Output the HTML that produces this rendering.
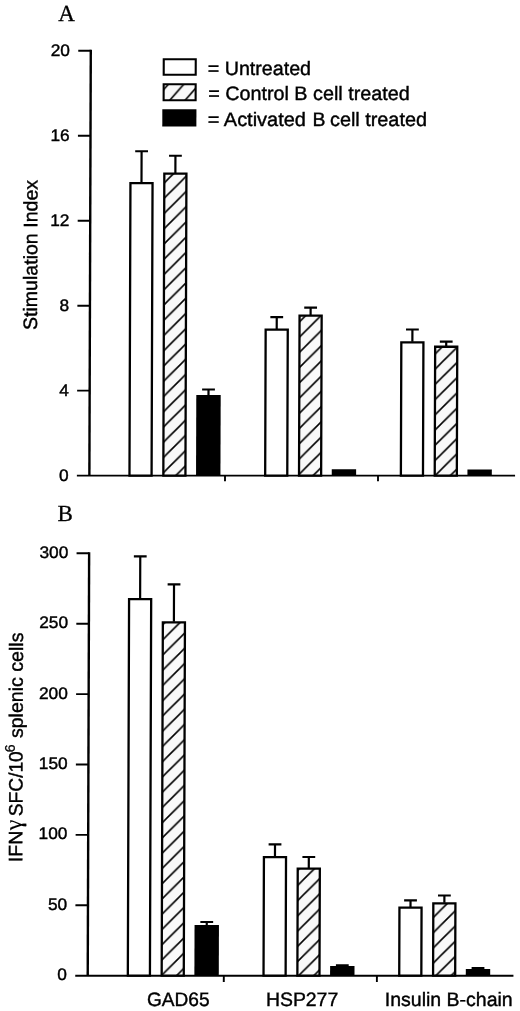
<!DOCTYPE html>
<html lang="en"><head><meta charset="utf-8"><title>Figure</title>
<style>html,body{margin:0;padding:0;background:#fff}svg{display:block}text{font-family:"Liberation Sans",Arial,Helvetica,sans-serif;fill:#000}.serif{font-family:"Liberation Serif","Times New Roman",serif}</style>
</head><body>
<svg width="520" height="1011" viewBox="0 0 520 1011">
<defs>
<pattern id="hA" patternUnits="userSpaceOnUse" width="15.255" height="15.255" patternTransform="translate(0 12.20)"><rect width="15.255" height="15.255" fill="#f9f9f9"/><path d="M-15.255 15.255L15.255 -15.255M0 15.255L15.255 0M0 30.51L30.510 0" stroke="#000" stroke-width="1.6" fill="none"/></pattern>
<pattern id="hB" patternUnits="userSpaceOnUse" width="15.255" height="15.255" patternTransform="translate(0 11.34)"><rect width="15.255" height="15.255" fill="#f9f9f9"/><path d="M-15.255 15.255L15.255 -15.255M0 15.255L15.255 0M0 30.51L30.510 0" stroke="#000" stroke-width="1.6" fill="none"/></pattern>
<pattern id="hl" patternUnits="userSpaceOnUse" width="15.391" height="17.7" patternTransform="translate(0 12.70)"><rect width="15.391" height="17.7" fill="#f9f9f9"/><path d="M-15.391 17.7L15.391 -17.7M0 17.7L15.391 0M0 35.4L30.783 0" stroke="#000" stroke-width="1.6" fill="none"/></pattern>
</defs>
<rect width="520" height="1011" fill="#fff"/>
<g transform="matrix(1 0 -0.0033 1 0 0)">
<text class="serif" x="58.25" y="21" font-size="23" stroke="#000" stroke-width="0.3">A</text>
<path d="M90.95 49.85V475.6" stroke="#000" stroke-width="2.4" fill="none"/>
<path d="M78.45 475.6H516.65" stroke="#000" stroke-width="1.9" fill="none"/>
<path d="M78.4 390.64H90.95" stroke="#000" stroke-width="1.9" fill="none"/>
<path d="M78.4 305.68H90.95" stroke="#000" stroke-width="1.9" fill="none"/>
<path d="M78.4 220.72H90.95" stroke="#000" stroke-width="1.9" fill="none"/>
<path d="M78.4 135.76H90.95" stroke="#000" stroke-width="1.9" fill="none"/>
<path d="M78.4 50.80H90.95" stroke="#000" stroke-width="1.9" fill="none"/>
<text transform="translate(70.15 480.78) scale(1.035 1)" font-size="16.7" text-anchor="end" stroke="#000" stroke-width="0.42">0</text>
<text transform="translate(70.15 395.82) scale(1.035 1)" font-size="16.7" text-anchor="end" stroke="#000" stroke-width="0.42">4</text>
<text transform="translate(70.15 310.86) scale(1.035 1)" font-size="16.7" text-anchor="end" stroke="#000" stroke-width="0.42">8</text>
<text transform="translate(70.15 225.90) scale(1.035 1)" font-size="16.7" text-anchor="end" stroke="#000" stroke-width="0.42">12</text>
<text transform="translate(70.15 140.94) scale(1.035 1)" font-size="16.7" text-anchor="end" stroke="#000" stroke-width="0.42">16</text>
<text transform="translate(70.15 55.98) scale(1.035 1)" font-size="16.7" text-anchor="end" stroke="#000" stroke-width="0.42">20</text>
<path d="M226.58 475.6V481.20000000000005" stroke="#000" stroke-width="1.9" fill="none"/>
<path d="M379.58 475.6V481.20000000000005" stroke="#000" stroke-width="1.9" fill="none"/>
<text transform="translate(38.04 330.1) rotate(-90)" font-size="19.4" textLength="150.2" lengthAdjust="spacingAndGlyphs" stroke="#000" stroke-width="0.4">Stimulation Index</text>
<rect x="163.95" y="59.3" width="32" height="15.4" fill="#fff" stroke="#000" stroke-width="2.1"/>
<rect x="163.95" y="84.3" width="32" height="15.9" fill="url(#hl)" stroke="#000" stroke-width="2.1"/>
<rect x="162.70" y="109.3" width="34.1" height="17.2" fill="#000"/>
<text x="208.03" y="75" font-size="19.4" textLength="103.3" lengthAdjust="spacingAndGlyphs" stroke="#000" stroke-width="0.4">= Untreated</text>
<text x="208.51" y="100.2" font-size="19.4" textLength="201.5" lengthAdjust="spacingAndGlyphs" stroke="#000" stroke-width="0.4">= Control B cell treated</text>
<text x="208.20" y="125.8" font-size="19.4" textLength="98.1" lengthAdjust="spacingAndGlyphs" stroke="#000" stroke-width="0.4">= Activated</text>
<text x="312.85" y="125.8" font-size="19.4" stroke="#000" stroke-width="0.4">B</text>
<text x="330.40" y="125.8" font-size="19.4" textLength="97.0" lengthAdjust="spacingAndGlyphs" stroke="#000" stroke-width="0.4">cell treated</text>
<rect x="131.05" y="183.05" width="22.10" height="292.55" fill="#fff" stroke="#000" stroke-width="2.3"/>
<path d="M142.10 182.40V151.25M135.70 151.25H148.50" stroke="#000" stroke-width="2.2" fill="none"/>
<rect x="164.90" y="173.55" width="22.10" height="302.05" fill="url(#hA)" stroke="#000" stroke-width="2.3"/>
<path d="M175.95 172.90V155.75M169.55 155.75H182.35" stroke="#000" stroke-width="2.2" fill="none"/>
<rect x="197.60" y="395.00" width="24.40" height="80.60" fill="#000"/>
<path d="M209.80 395.50V389.50M203.40 389.50H216.20" stroke="#000" stroke-width="2.2" fill="none"/>
<rect x="266.75" y="329.65" width="22.10" height="145.95" fill="#fff" stroke="#000" stroke-width="2.3"/>
<path d="M277.80 329.00V317.20M271.40 317.20H284.20" stroke="#000" stroke-width="2.2" fill="none"/>
<rect x="300.60" y="315.55" width="22.10" height="160.05" fill="url(#hA)" stroke="#000" stroke-width="2.3"/>
<path d="M311.65 314.90V307.60M305.25 307.60H318.05" stroke="#000" stroke-width="2.2" fill="none"/>
<rect x="333.30" y="469.30" width="24.40" height="6.30" fill="#000"/>
<rect x="402.45" y="342.35" width="22.10" height="133.25" fill="#fff" stroke="#000" stroke-width="2.3"/>
<path d="M413.50 341.70V329.50M407.10 329.50H419.90" stroke="#000" stroke-width="2.2" fill="none"/>
<rect x="436.30" y="346.75" width="22.10" height="128.85" fill="url(#hA)" stroke="#000" stroke-width="2.3"/>
<path d="M447.35 346.10V341.60M440.95 341.60H453.75" stroke="#000" stroke-width="2.2" fill="none"/>
<rect x="469.00" y="469.60" width="24.40" height="6.00" fill="#000"/>
<text class="serif" x="59.20" y="521" font-size="23" stroke="#000" stroke-width="0.3">B</text>
<path d="M90.95 552.35V975.7" stroke="#000" stroke-width="2.4" fill="none"/>
<path d="M78.45 975.7H516.65" stroke="#000" stroke-width="1.9" fill="none"/>
<path d="M78.4 905.30H90.95" stroke="#000" stroke-width="1.9" fill="none"/>
<path d="M78.4 834.90H90.95" stroke="#000" stroke-width="1.9" fill="none"/>
<path d="M78.4 764.50H90.95" stroke="#000" stroke-width="1.9" fill="none"/>
<path d="M78.4 694.10H90.95" stroke="#000" stroke-width="1.9" fill="none"/>
<path d="M78.4 623.70H90.95" stroke="#000" stroke-width="1.9" fill="none"/>
<path d="M78.4 553.30H90.95" stroke="#000" stroke-width="1.9" fill="none"/>
<text transform="translate(70.15 980.18) scale(1.035 1)" font-size="16.7" text-anchor="end" stroke="#000" stroke-width="0.42">0</text>
<text transform="translate(70.15 909.78) scale(1.035 1)" font-size="16.7" text-anchor="end" stroke="#000" stroke-width="0.42">50</text>
<text transform="translate(70.15 839.38) scale(1.035 1)" font-size="16.7" text-anchor="end" stroke="#000" stroke-width="0.42">100</text>
<text transform="translate(70.15 768.98) scale(1.035 1)" font-size="16.7" text-anchor="end" stroke="#000" stroke-width="0.42">150</text>
<text transform="translate(70.15 698.58) scale(1.035 1)" font-size="16.7" text-anchor="end" stroke="#000" stroke-width="0.42">200</text>
<text transform="translate(70.15 628.18) scale(1.035 1)" font-size="16.7" text-anchor="end" stroke="#000" stroke-width="0.42">250</text>
<text transform="translate(70.15 557.78) scale(1.035 1)" font-size="16.7" text-anchor="end" stroke="#000" stroke-width="0.42">300</text>
<path d="M227.03 975.7V981.9000000000001" stroke="#000" stroke-width="1.9" fill="none"/>
<path d="M380.13 975.7V981.9000000000001" stroke="#000" stroke-width="1.9" fill="none"/>
<g transform="translate(25.08 862.1) rotate(-90)" font-size="19.4" stroke="#000" stroke-width="0.4"><text x="0" y="0" textLength="31.4" lengthAdjust="spacingAndGlyphs">IFN</text><text class="serif" x="31.9" y="-1.0" font-size="24" stroke-width="0.15">γ</text><text x="45.9" y="0" textLength="65" lengthAdjust="spacingAndGlyphs">SFC/10</text><text x="109.9" y="-7.8" font-size="14" stroke-width="0.3">6</text><text x="124.0" y="0" textLength="105.6" lengthAdjust="spacingAndGlyphs">splenic cells</text></g>
<rect x="131.05" y="599.15" width="22.10" height="376.55" fill="#fff" stroke="#000" stroke-width="2.3"/>
<path d="M142.10 598.50V556.30M135.70 556.30H148.50" stroke="#000" stroke-width="2.2" fill="none"/>
<rect x="164.90" y="622.40" width="22.10" height="353.30" fill="url(#hB)" stroke="#000" stroke-width="2.3"/>
<path d="M175.95 621.75V584.30M169.55 584.30H182.35" stroke="#000" stroke-width="2.2" fill="none"/>
<rect x="197.60" y="925.00" width="24.40" height="50.70" fill="#000"/>
<path d="M209.80 925.50V922.00M203.40 922.00H216.20" stroke="#000" stroke-width="2.2" fill="none"/>
<rect x="266.75" y="857.05" width="22.10" height="118.65" fill="#fff" stroke="#000" stroke-width="2.3"/>
<path d="M277.80 856.40V844.40M271.40 844.40H284.20" stroke="#000" stroke-width="2.2" fill="none"/>
<rect x="300.60" y="868.65" width="22.10" height="107.05" fill="url(#hB)" stroke="#000" stroke-width="2.3"/>
<path d="M311.65 868.00V857.00M305.25 857.00H318.05" stroke="#000" stroke-width="2.2" fill="none"/>
<rect x="333.30" y="966.10" width="24.40" height="9.60" fill="#000"/>
<path d="M345.50 966.60V965.25M339.10 965.25H351.90" stroke="#000" stroke-width="2.2" fill="none"/>
<rect x="402.45" y="907.65" width="22.10" height="68.05" fill="#fff" stroke="#000" stroke-width="2.3"/>
<path d="M413.50 907.00V900.40M407.10 900.40H419.90" stroke="#000" stroke-width="2.2" fill="none"/>
<rect x="436.30" y="903.30" width="22.10" height="72.40" fill="url(#hB)" stroke="#000" stroke-width="2.3"/>
<path d="M447.35 902.65V895.50M440.95 895.50H453.75" stroke="#000" stroke-width="2.2" fill="none"/>
<rect x="469.00" y="968.90" width="24.40" height="6.80" fill="#000"/>
<path d="M481.20 969.40V968.00M474.80 968.00H487.60" stroke="#000" stroke-width="2.2" fill="none"/>
<text x="150.30" y="1006" font-size="19.4" textLength="62.6" lengthAdjust="spacingAndGlyphs" stroke="#000" stroke-width="0.4">GAD65</text>
<text x="269.30" y="1006" font-size="19.4" textLength="72.2" lengthAdjust="spacingAndGlyphs" stroke="#000" stroke-width="0.4">HSP277</text>
<text x="388.20" y="1006" font-size="19.4" textLength="127.8" lengthAdjust="spacingAndGlyphs" stroke="#000" stroke-width="0.4">Insulin B-chain</text>
</g>
</svg></body></html>
